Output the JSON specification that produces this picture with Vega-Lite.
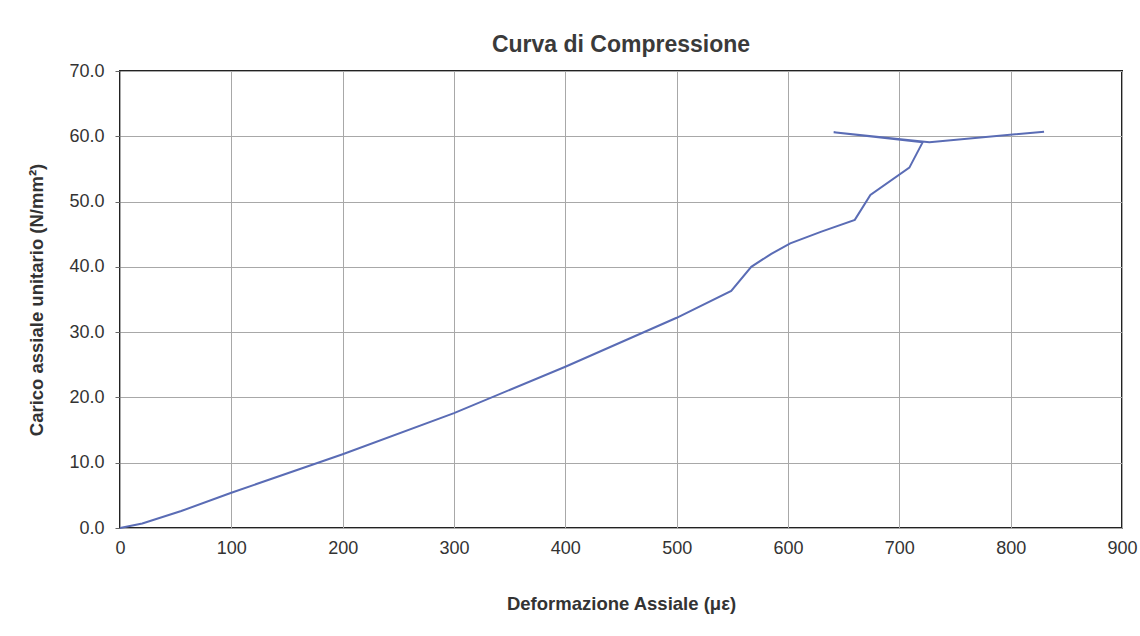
{
  "$schema": "https://vega.github.io/schema/vega-lite/v6.json",
  "width": 1002,
  "height": 457,
  "autosize": {"type": "none"},
  "padding": {"left": 120, "top": 71, "right": 18, "bottom": 108},
  "background": "white",
  "title": {
    "text": "Curva di Compressione",
    "font": "Liberation Sans",
    "fontSize": 23,
    "fontWeight": "bold",
    "color": "#3a3a3a",
    "anchor": "middle",
    "offset": 5
  },
  "config": {
    "view": {"stroke": "#222", "strokeWidth": 2},
    "axis": {
      "labelFont": "Liberation Sans",
      "titleFont": "Liberation Sans",
      "labelFontSize": 18,
      "titleFontSize": 18.5,
      "labelColor": "#333",
      "titleColor": "#333",
      "titleFontWeight": "bold",
      "gridColor": "#a8a8a8",
      "gridWidth": 1,
      "gridOpacity": 1,
      "domain": false
    }
  },
  "data": {
    "values": [
      {"i": 1, "x": 0, "y": 0},
      {"i": 2, "x": 20, "y": 0.7},
      {"i": 3, "x": 55, "y": 2.6},
      {"i": 4, "x": 100, "y": 5.4},
      {"i": 5, "x": 200, "y": 11.3},
      {"i": 6, "x": 300, "y": 17.6},
      {"i": 7, "x": 400, "y": 24.7},
      {"i": 8, "x": 500, "y": 32.2},
      {"i": 9, "x": 549, "y": 36.3},
      {"i": 10, "x": 567, "y": 40.0},
      {"i": 11, "x": 585, "y": 42.0},
      {"i": 12, "x": 602, "y": 43.6},
      {"i": 13, "x": 630, "y": 45.4},
      {"i": 14, "x": 660, "y": 47.2},
      {"i": 15, "x": 674, "y": 51.0},
      {"i": 16, "x": 709, "y": 55.2},
      {"i": 17, "x": 721, "y": 59.1},
      {"i": 18, "x": 641, "y": 60.6},
      {"i": 19, "x": 727, "y": 59.1},
      {"i": 20, "x": 830, "y": 60.7}
    ]
  },
  "mark": {"type": "line", "color": "#5a6cb5", "strokeWidth": 2},
  "encoding": {
    "order": {"field": "i", "type": "quantitative"},
    "x": {
      "field": "x",
      "type": "quantitative",
      "scale": {"domain": [0, 900], "nice": false},
      "axis": {
        "title": "Deformazione Assiale (με)",
        "values": [0, 100, 200, 300, 400, 500, 600, 700, 800, 900],
        "ticks": false,
        "labelPadding": 11,
        "titlePadding": 37,
        "labelFlush": false
      }
    },
    "y": {
      "field": "y",
      "type": "quantitative",
      "scale": {"domain": [0, 70], "nice": false},
      "axis": {
        "title": "Carico assiale unitario (N/mm²)",
        "values": [0, 10, 20, 30, 40, 50, 60, 70],
        "format": ".1f",
        "tickSize": 5,
        "tickColor": "#666",
        "labelPadding": 11,
        "titlePadding": 22,
        "labelFlush": false
      }
    }
  }
}
